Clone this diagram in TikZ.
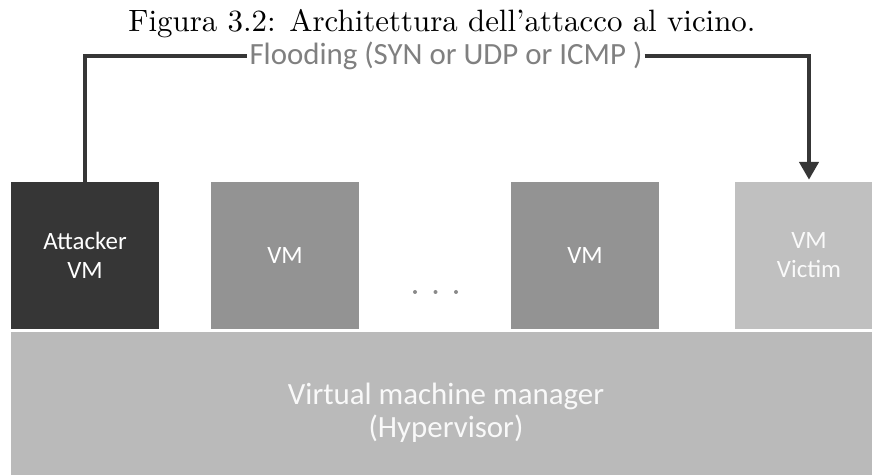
\documentclass[tikz,border=0pt]{standalone}
\usepackage{fontspec}
\newfontfamily\calib{Carlito}
\newfontfamily\capfont{lmroman10-regular.otf}
\usetikzlibrary{
  arrows.meta,
  calc,
}
\definecolor{cAtk}{HTML}{363636}
\definecolor{cVM}{HTML}{939393}
\definecolor{cVic}{HTML}{C0C0C0}
\definecolor{cHyp}{HTML}{BABABA}
\definecolor{cLine}{HTML}{363636}
\definecolor{cLab}{HTML}{808080}
\definecolor{cDot}{HTML}{8A8A8A}

\begin{document}
\begin{tikzpicture}[x=1bp,y=-1bp,
    vmbox/.style={rectangle,minimum width=148bp,minimum height=147bp,inner sep=0pt,
        align=center,text=white,font=\calib\fontsize{25}{29}\selectfont},
    flow/.style={cLine,line width=4.5bp,line join=miter}]
  \clip (0,0) rectangle (872,475);

  \node[anchor=base] (cap) at (442,31.5) {\capfont\fontsize{31}{34}\selectfont Figura 3.2: Architettura dell’attacco al vicino.};

  \node[vmbox,fill=cAtk] (atk) at (85,255.5) {Attacker\\VM};
  \node[vmbox,fill=cVM] (vmA) at (285,255.5) {VM};
  \node[vmbox,fill=cVM] (vmB) at (585,255.5) {VM};
  \node[vmbox,fill=cVic,text=white!92!cVic] (vic) at (809,255.5) {VM\\Victim};

  \foreach \x in {415,435.5,456}{
      \fill[cDot] (\x,292) circle (2bp);
    }

  \node[rectangle,fill=cHyp,minimum width=870bp,minimum height=162bp,inner sep=0pt,
      align=center,text=white!92!cHyp,font=\calib\fontsize{31}{33}\selectfont]
      (hyp) at (446,413) {Virtual machine manager\\(Hypervisor)};

  \node[inner xsep=2bp,inner ysep=0pt,text=cLab,font=\calib\fontsize{31}{34}\selectfont]
      (flood) at (446,56) {Flooding (SYN or UDP or ICMP )};

  \draw[flow] (atk.north) |- (flood.west);
  \draw[flow,-{Triangle[length=18bp,width=19bp]},shorten >=2bp] (flood.east) -| (vic.north);
\end{tikzpicture}
\end{document}
